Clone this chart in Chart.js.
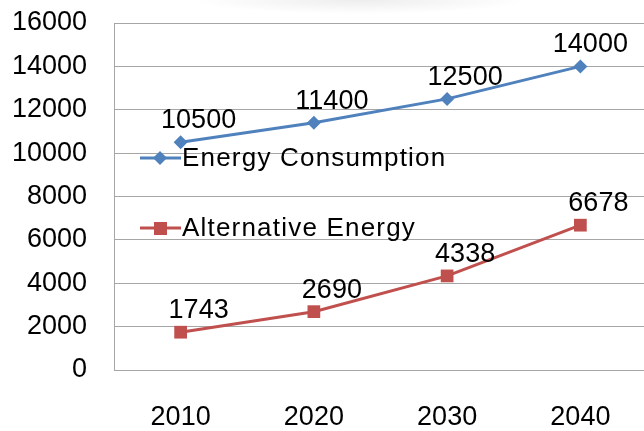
<!DOCTYPE html>
<html>
<head>
<meta charset="utf-8">
<script src="https://cdn.jsdelivr.net/npm/chart.js@4/dist/chart.umd.min.js"></script>
<style>
  html, body { margin: 0; padding: 0; background: #fff; overflow: hidden; }
  #wrap {
    width: 656px; height: 431px; position: relative;
    background: radial-gradient(ellipse 170px 14px at 360px 0px, rgba(0,0,0,0.07), rgba(0,0,0,0));
  }
</style>
</head>
<body>
<div id="wrap"><canvas id="lineChart"></canvas></div>
<script>
var years = ["2010", "2020", "2030", "2040"];
var consumption = [10500, 11400, 12500, 14000];
var alternative = [1743, 2690, 4338, 6678];
var seriesNames = ["Energy Consumption", "Alternative Energy"];

var blue = "#4F81BD";
var red = "#C0504D";
var font = "'Liberation Sans', Arial, sans-serif";

// value labels above each point
var valueLabels = {
  id: 'valueLabels',
  afterDatasetsDraw: function (chart) {
    var ctx = chart.ctx;
    ctx.save();
    ctx.font = "27px " + font;
    ctx.fillStyle = "#000";
    ctx.textAlign = "center";
    ctx.textBaseline = "alphabetic";
    chart.data.datasets.forEach(function (ds, i) {
      chart.getDatasetMeta(i).data.forEach(function (pt, j) {
        var dx = (j === ds.data.length - 1 && i === 0) ? 10 : 18;
        ctx.fillText(ds.data[j], pt.x + dx, pt.y - 14);
      });
    });
    ctx.restore();
  }
};

// legend sits inside the plot, left side
var innerLegend = {
  id: 'innerLegend',
  afterDraw: function (chart) {
    var ctx = chart.ctx;
    var rows = [
      { y: 158, color: blue, shape: 'diamond', text: seriesNames[0] },
      { y: 228, color: red, shape: 'square', text: seriesNames[1] }
    ];
    ctx.save();
    rows.forEach(function (r) {
      ctx.strokeStyle = r.color;
      ctx.lineWidth = 3;
      ctx.beginPath();
      ctx.moveTo(140, r.y);
      ctx.lineTo(181, r.y);
      ctx.stroke();
      ctx.fillStyle = r.color;
      ctx.beginPath();
      if (r.shape === 'diamond') {
        ctx.moveTo(160, r.y - 7);
        ctx.lineTo(167, r.y);
        ctx.lineTo(160, r.y + 7);
        ctx.lineTo(153, r.y);
      } else {
        ctx.rect(154, r.y - 6, 13, 13);
      }
      ctx.closePath();
      ctx.fill();
      ctx.fillStyle = "#000";
      ctx.font = "26px " + font;
      ctx.letterSpacing = "1.2px";
      ctx.textAlign = "left";
      ctx.textBaseline = "middle";
      ctx.fillText(r.text, 182, r.y + 1);
      ctx.letterSpacing = "0px";
    });
    ctx.restore();
  }
};

var lineData = {
  labels: years,
  datasets: [{
    label: seriesNames[0],
    data: consumption,
    borderColor: blue,
    backgroundColor: blue,
    borderWidth: 3,
    pointStyle: 'rectRot',
    pointRadius: 7,
    pointBorderWidth: 0,
    fill: false,
    tension: 0
  }, {
    label: seriesNames[1],
    data: alternative,
    borderColor: red,
    backgroundColor: red,
    borderWidth: 3,
    pointStyle: 'rect',
    pointRadius: 9,
    pointBorderWidth: 0,
    fill: false,
    tension: 0
  }]
};

var myLineChart = new Chart(document.getElementById('lineChart'), {
  type: 'line',
  data: lineData,
  plugins: [valueLabels, innerLegend],
  options: {
    responsive: true,
    maintainAspectRatio: false,
    animation: false,
    layout: { padding: { top: 23, right: 0, left: 0, bottom: 0 } },
    plugins: { legend: { display: false }, tooltip: { enabled: false } },
    scales: {
      x: {
        offset: true,
        grid: { display: false, drawTicks: false, offset: true },
        border: { color: "#A6A6A6", width: 1 },
        ticks: { color: "#000", font: { family: font, size: 27 }, padding: 31, maxRotation: 0 },
        afterFit: function (s) { s.height = 61; s.paddingLeft = 0; s.paddingRight = 0; }
      },
      y: {
        min: 0,
        max: 16000,
        grid: { color: "#A6A6A6", lineWidth: 1, drawTicks: false },
        border: { color: "#A6A6A6", width: 1 },
        ticks: {
          stepSize: 2000, color: "#000", font: { family: font, size: 27 }, padding: 27,
          callback: function (v) { return String(v); }
        },
        afterFit: function (s) { s.width = 114; s.paddingTop = 0; s.paddingBottom = 0; }
      }
    }
  }
});
</script>
</body>
</html>
